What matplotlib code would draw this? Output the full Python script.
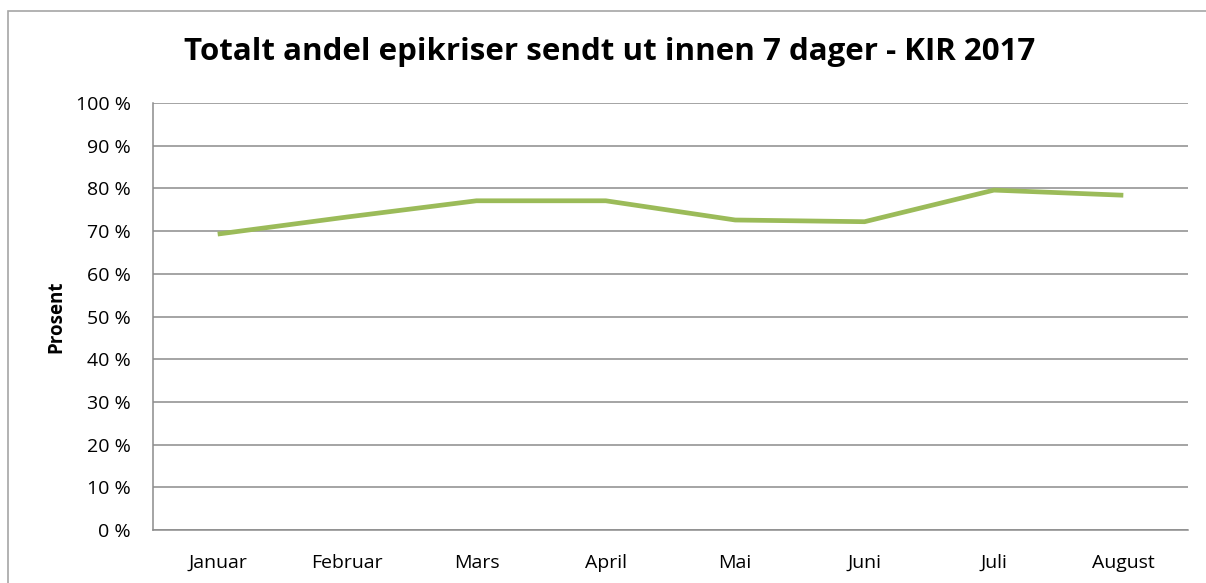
import matplotlib.pyplot as plt
from matplotlib.ticker import FuncFormatter
from matplotlib.patches import Rectangle

# data
maaneder = ['Januar', 'Februar', 'Mars', 'April', 'Mai', 'Juni', 'Juli', 'August']
andel = [69.3, 73.3, 77.1, 77.1, 72.6, 72.2, 79.6, 78.4]
yticks = list(range(0, 101, 10))

plt.rcParams['font.family'] = ['Open Sans', 'DejaVu Sans']

W, H = 1206, 583
fig = plt.figure(figsize=(W / 100, H / 100), dpi=100)
fig.patch.set_facecolor('white')

# outer chart frame
fig.patches.append(Rectangle((8 / W, -0.05), 1.2, 1 - 11 / H + 0.05,
                             transform=fig.transFigure, fill=False,
                             edgecolor='#a6a6a6', linewidth=1.2))

ax = fig.add_axes([153 / W, 53 / H, (1188 - 153) / W, (530 - 103) / H])

x = list(range(len(maaneder)))
ax.plot(x, andel, color='#9bbb59', linewidth=3.4, solid_capstyle='butt',
        solid_joinstyle='round')

ax.set_xlim(-0.5, len(maaneder) - 0.5)
ax.set_ylim(0, 100)
ax.set_yticks(yticks)
ax.yaxis.set_major_formatter(FuncFormatter(lambda v, p: f'{int(v)} %'))
ax.set_xticks(x)
ax.set_xticklabels(maaneder)

ax.grid(axis='y', color='#8c8c8c', linewidth=1.1)
ax.set_axisbelow(True)
for side in ['top', 'right']:
    ax.spines[side].set_visible(False)
ax.spines['left'].set_color('#8c8c8c')
ax.spines['bottom'].set_color('#8c8c8c')
ax.spines['left'].set_linewidth(1.1)
ax.spines['bottom'].set_linewidth(1.1)
ax.tick_params(axis='both', length=0, labelsize=14, colors='black')
ax.tick_params(axis='y', pad=16)
ax.tick_params(axis='x', pad=17)

ax.set_ylabel('Prosent', fontsize=13.5, fontweight='bold', labelpad=7)

fig.text(610 / W, 1 - 52 / H, 'Totalt andel epikriser sendt ut innen 7 dager - KIR 2017',
         ha='center', va='center', fontsize=22.5, fontweight='bold')

fig.savefig('out.png', dpi=100)
